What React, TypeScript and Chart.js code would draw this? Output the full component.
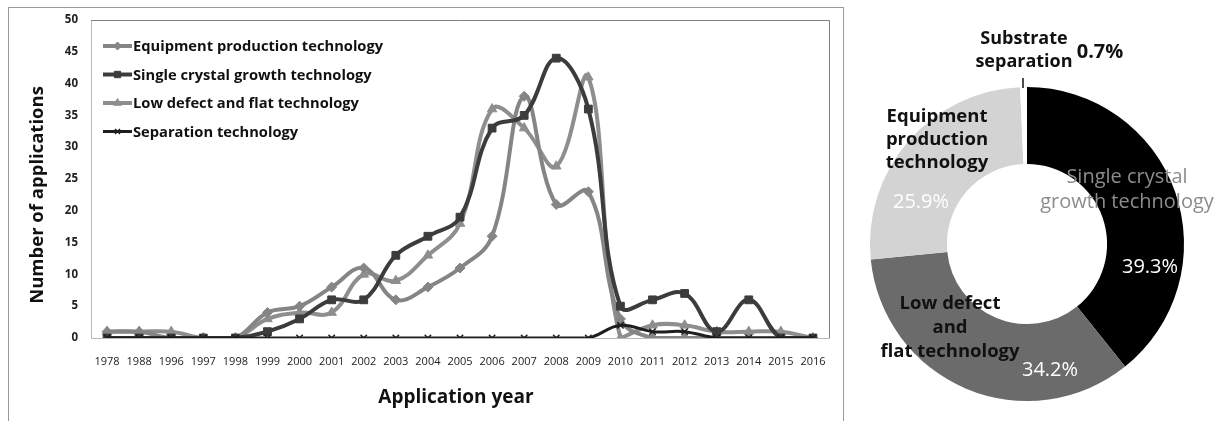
import React, { useEffect, useRef } from 'react';
import { Chart, registerables } from 'chart.js';
import { drawPoint } from 'chart.js/helpers';

Chart.register(...registerables);

// ---------- data ----------
const years = ['1978', '1988', '1996', '1997', '1998', '1999', '2000', '2001', '2002', '2003', '2004', '2005', '2006', '2007', '2008', '2009', '2010', '2011', '2012', '2013', '2014', '2015', '2016'];
const equipmentCounts = [1, 1, 0, 0, 0, 4, 5, 8, 11, 6, 8, 11, 16, 38, 21, 23, 3, 0, 0, 0, 0, 0, 0];
const singleCrystalCounts = [0, 0, 0, 0, 0, 1, 3, 6, 6, 13, 16, 19, 33, 35, 44, 36, 5, 6, 7, 1, 6, 0, 0];
const lowDefectCounts = [1, 1, 1, 0, 0, 3, 4, 4, 10, 9, 13, 18, 36, 33, 27, 41, 0, 2, 2, 1, 1, 1, 0];
const separationCounts = [0, 0, 0, 0, 0, 0, 0, 0, 0, 0, 0, 0, 0, 0, 0, 0, 2, 1, 1, 0, 0, 0, 0];
const seriesNames = ['Equipment production technology', 'Single crystal growth technology', 'Low defect and flat technology', 'Separation technology'];
const yTickMax = 50;
const yTickStep = 5;
const yAxisTitle = 'Number of applications';
const xAxisTitle = 'Application year';

const donutNames = ['Single crystal growth technology', 'Low defect and flat technology', 'Equipment production technology', 'Substrate separation'];
const donutShares = [39.3, 34.2, 25.9, 0.7];

const FONT = '"Open Sans", "Noto Sans", "DejaVu Sans", sans-serif';

// ---------- plugins for line chart ----------
const plotFrame = {
  id: 'plotFrame',
  beforeDatasetsDraw(chart: any) {
    const { ctx, chartArea: a } = chart;
    ctx.save();
    ctx.lineWidth = 1;
    ctx.strokeStyle = '#b8b8b8';
    ctx.beginPath();
    ctx.moveTo(a.left + 0.5, a.top);
    ctx.lineTo(a.left + 0.5, a.bottom + 0.5);
    ctx.lineTo(a.right, a.bottom + 0.5);
    ctx.stroke();
    ctx.strokeStyle = '#808080';
    ctx.beginPath();
    ctx.moveTo(a.left, a.top + 0.5);
    ctx.lineTo(a.right + 0.5, a.top + 0.5);
    ctx.lineTo(a.right + 0.5, a.bottom + 0.5);
    ctx.stroke();
    ctx.restore();
  },
};

const insideLegend = {
  id: 'insideLegend',
  afterDraw(chart: any) {
    const { ctx, chartArea: a } = chart;
    const x0 = a.left + 12;
    const x1 = a.left + 41;
    chart.data.datasets.forEach((ds: any, i: number) => {
      const y = a.top + 26 + i * 28.5;
      ctx.save();
      ctx.strokeStyle = ds.borderColor;
      ctx.lineWidth = ds.borderWidth;
      ctx.beginPath();
      ctx.moveTo(x0, y);
      ctx.lineTo(x1, y);
      ctx.stroke();
      ctx.fillStyle = ds.pointBackgroundColor;
      ctx.strokeStyle = ds.pointBorderColor;
      ctx.lineWidth = ds.pointBorderWidth;
      drawPoint(ctx, { pointStyle: ds.pointStyle, radius: ds.pointRadius - 1, rotation: 0, borderWidth: ds.pointBorderWidth }, (x0 + x1) / 2, y);
      ctx.fillStyle = '#111';
      ctx.font = `bold 14.7px ${FONT}`;
      ctx.textBaseline = 'middle';
      ctx.textAlign = 'left';
      ctx.fillText(ds.label, x1 + 1, y + 1);
      ctx.restore();
    });
  },
};

const axisTitles = {
  id: 'axisTitles',
  afterDraw(chart: any) {
    const { ctx, chartArea: a } = chart;
    ctx.save();
    ctx.fillStyle = '#111';
    ctx.textAlign = 'center';
    ctx.textBaseline = 'middle';
    ctx.font = `bold 19px ${FONT}`;
    ctx.fillText(xAxisTitle, (a.left + a.right) / 2 - 4, a.bottom + 60);
    ctx.font = `bold 18.5px ${FONT}`;
    ctx.translate(a.left - 53, (a.top + a.bottom) / 2 + 16);
    ctx.rotate(-Math.PI / 2);
    ctx.fillText(yAxisTitle, 0, 0);
    ctx.restore();
  },
};

// ---------- plugin for donut ----------
type Lbl = { t: string; dx: number; dy: number; c: string; f: string };
const donutText: Lbl[] = [
  { t: 'Substrate', dx: -3, dy: -205, c: '#111', f: 'bold 18px' },
  { t: 'separation', dx: -3, dy: -182, c: '#111', f: 'bold 18px' },
  { t: '0.7%', dx: 73, dy: -192, c: '#111', f: 'bold 20px' },
  { t: 'Equipment', dx: -90, dy: -127, c: '#111', f: 'bold 18.5px' },
  { t: 'production', dx: -90, dy: -104, c: '#111', f: 'bold 18.5px' },
  { t: 'technology', dx: -90, dy: -81, c: '#111', f: 'bold 18.5px' },
  { t: '25.9%', dx: -106, dy: -42, c: '#ffffff', f: '20px' },
  { t: 'Single crystal', dx: 100, dy: -67, c: '#8c8c8c', f: '20px' },
  { t: 'growth technology', dx: 100, dy: -42, c: '#8c8c8c', f: '20px' },
  { t: '39.3%', dx: 123, dy: 23, c: '#ffffff', f: '20px' },
  { t: 'Low defect', dx: -77, dy: 60, c: '#111', f: 'bold 18.5px' },
  { t: 'and', dx: -77, dy: 84, c: '#111', f: 'bold 18.5px' },
  { t: 'flat technology', dx: -77, dy: 108, c: '#111', f: 'bold 18.5px' },
  { t: '34.2%', dx: 23, dy: 126, c: '#ffffff', f: '20px' },
];

const donutLabels = {
  id: 'donutLabels',
  afterDraw(chart: any) {
    const { ctx, chartArea: a } = chart;
    const cx = (a.left + a.right) / 2;
    const cy = (a.top + a.bottom) / 2;
    ctx.save();
    ctx.textAlign = 'center';
    ctx.textBaseline = 'middle';
    donutText.forEach((l) => {
      ctx.font = `${l.f} ${FONT}`;
      ctx.fillStyle = l.c;
      ctx.fillText(l.t, cx + l.dx, cy + l.dy);
    });
    ctx.strokeStyle = '#111';
    ctx.lineWidth = 1.5;
    ctx.beginPath();
    ctx.moveTo(cx - 4, cy - 166);
    ctx.lineTo(cx - 4, cy - 156);
    ctx.stroke();
    ctx.restore();
  },
};

export default function App() {
  const lineRef = useRef<HTMLCanvasElement>(null);
  const donutRef = useRef<HTMLCanvasElement>(null);

  useEffect(() => {
    const mk = (label: string, data: number[], color: string, style: string, r: number, w: number, order: number) => ({
      label,
      data,
      borderColor: color,
      backgroundColor: color,
      pointBackgroundColor: color,
      pointBorderColor: color,
      pointBorderWidth: 1,
      pointStyle: style,
      pointRadius: r,
      borderWidth: w,
      tension: 0.4,
      fill: false,
      order,
    });

    const lineChart = new Chart(lineRef.current!, {
      type: 'line',
      data: {
        labels: years,
        datasets: [
          mk(seriesNames[0], equipmentCounts, '#858585', 'rectRot', 5, 4, 2),
          mk(seriesNames[1], singleCrystalCounts, '#3c3c3c', 'rect', 5.5, 4, 1),
          mk(seriesNames[2], lowDefectCounts, '#8e8e8e', 'triangle', 5.5, 4, 3),
          { ...mk(seriesNames[3], separationCounts, '#1e1e1e', 'crossRot', 4.5, 3, 0), pointBorderWidth: 1.5 },
        ] as any,
      },
      options: {
        responsive: false,
        animation: false,
        layout: { padding: { left: 0, top: 12, right: 14, bottom: 0 } },
        plugins: { legend: { display: false }, tooltip: { enabled: false } },
        scales: {
          x: {
            offset: true,
            grid: { display: false, drawTicks: false },
            border: { display: false },
            ticks: { autoSkip: false, maxRotation: 0, padding: 17, color: '#222', font: { family: FONT, size: 11 } },
            afterFit: (s: any) => { s.height = 83; },
          },
          y: {
            min: 0,
            max: yTickMax,
            grid: { display: false, drawTicks: true, tickLength: 13 },
            border: { display: false },
            ticks: { stepSize: yTickStep, padding: 0, color: '#222', font: { family: FONT, size: 11.5, weight: 'bold' } },
            afterFit: (s: any) => { s.width = 82; },
          },
        },
      },
      plugins: [plotFrame, insideLegend, axisTitles],
    });

    const donutChart = new Chart(donutRef.current!, {
      type: 'doughnut',
      data: {
        labels: donutNames,
        datasets: [{ data: donutShares, backgroundColor: ['#000000', '#6b6b6b', '#d3d3d3', '#ffffff'], borderWidth: 0 }],
      },
      options: {
        responsive: false,
        animation: false,
        cutout: '51%',
        layout: { padding: { left: 26, right: 43, top: 87, bottom: 20 } },
        plugins: { legend: { display: false }, tooltip: { enabled: false } },
      },
      plugins: [donutLabels],
    });

    return () => {
      lineChart.destroy();
      donutChart.destroy();
    };
  }, []);

  return (
    <div style={{ position: 'absolute', left: 0, top: 0, width: 1227, height: 421, background: '#fff', overflow: 'hidden' }}>
      <div style={{ position: 'absolute', left: 8, top: 7, width: 834, height: 420, borderLeft: '1px solid #9a9a9a', borderTop: '1px solid #9a9a9a', borderRight: '1px solid #9a9a9a' }} />
      <canvas ref={lineRef} width={834} height={413} style={{ position: 'absolute', left: 9, top: 8, width: 834, height: 413 }} />
      <canvas ref={donutRef} width={383} height={421} style={{ position: 'absolute', left: 844, top: 0, width: 383, height: 421 }} />
    </div>
  );
}
